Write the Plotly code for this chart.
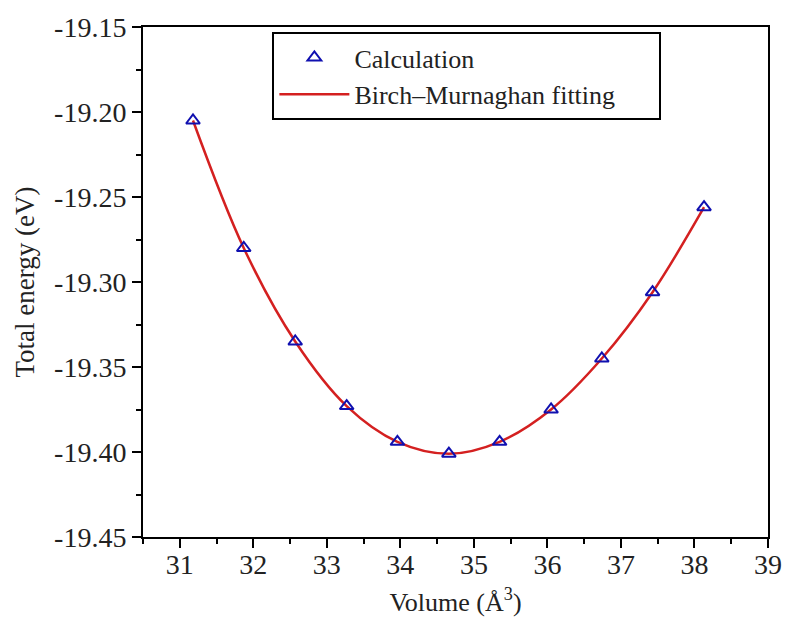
import plotly.graph_objects as go

volume = [31.18, 31.87, 32.57, 33.27, 33.96, 34.66, 35.35, 36.05, 36.74, 37.43, 38.13]
energy = [-19.205, -19.280, -19.335, -19.373, -19.394, -19.401, -19.394, -19.375, -19.345, -19.306, -19.256]

x_ticks = [31, 32, 33, 34, 35, 36, 37, 38, 39]
y_ticks = [-19.45, -19.40, -19.35, -19.30, -19.25, -19.20, -19.15]

FONT = "Liberation Serif"
PAD = "\u00a0" * 6

fig = go.Figure()
fig.add_trace(go.Scatter(
    x=volume, y=energy, mode="lines", name="Birch\u2013Murnaghan fitting" + PAD,
    line=dict(color="#d42020", width=2.5, shape="spline", smoothing=1.0),
    legendrank=2, legendgroup="b",
))
fig.add_trace(go.Scatter(
    x=volume, y=energy, mode="markers", name="Calculation",
    marker=dict(symbol="triangle-up-open", size=12, color="#1010b0", line=dict(width=2, color="#1010b0")),
    legendrank=1, legendgroup="a",
))

axis_common = dict(
    showline=True, linecolor="black", linewidth=2, mirror=True,
    ticks="outside", ticklen=9, tickwidth=2, tickcolor="black",
    showgrid=False, zeroline=False,
    tickfont=dict(family=FONT, size=28, color="#222222"),
)

fig.update_layout(
    width=794, height=624,
    margin=dict(l=143, r=15, t=24, b=86),
    paper_bgcolor="white", plot_bgcolor="white",
    font=dict(family=FONT, size=26, color="#222222"),
    showlegend=True,
    legend=dict(
        x=0.207, y=0.99, xanchor="left", yanchor="top",
        bordercolor="black", borderwidth=2, bgcolor="white",
        font=dict(family=FONT, size=26, color="#222222"),
        itemwidth=70, tracegroupgap=0,
    ),
    xaxis=dict(
        range=[30.5, 39], tickvals=x_ticks, ticktext=[str(v) for v in x_ticks],
        minor=dict(dtick=0.5, tick0=30.5, ticks="outside", ticklen=5, tickwidth=2, tickcolor="black"),
        ticklabelstandoff=-8,
        title=dict(text="Volume (\u00c5<sup>3</sup>)", font=dict(family=FONT, size=26), standoff=14),
        **axis_common,
    ),
    yaxis=dict(
        range=[-19.45, -19.15], tickvals=y_ticks, ticktext=[f"{v:.2f}" for v in y_ticks],
        minor=dict(dtick=0.025, tick0=-19.45, ticks="outside", ticklen=5, tickwidth=2, tickcolor="black"),
        title=dict(text="Total energy (eV)", font=dict(family=FONT, size=27), standoff=12),
        **axis_common,
    ),
)

fig.write_html("out.html")
